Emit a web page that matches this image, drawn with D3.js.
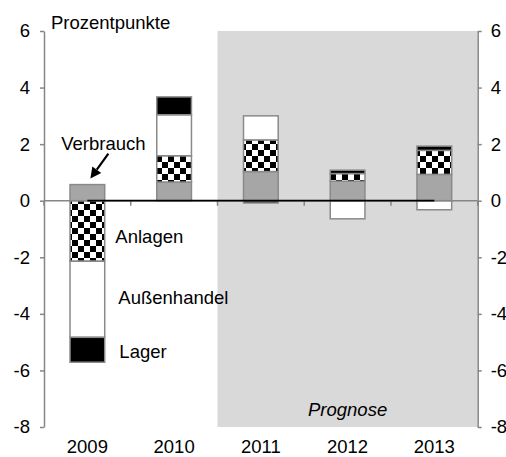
<!DOCTYPE html>
<html>
<head>
<meta charset="utf-8">
<script src="https://cdn.jsdelivr.net/npm/d3@7"></script>
<style>
  html, body { margin: 0; padding: 0; background: #fff; }
  svg { display: block; font-family: "Liberation Sans", Arial, sans-serif; }
</style>
</head>
<body>
<svg id="chart" width="506" height="457"></svg>
<script>
// Wachstumsbeiträge zum BIP (Prozentpunkte)
const jahre = ["2009", "2010", "2011", "2012", "2013"];
const verbrauch = [0.57, 0.66, 1.03, 0.69, 0.93];
const anlagen = [-2.14, 0.93, 1.12, 0.27, 0.85];
const aussenhandel = [-2.69, 1.45, 0.85, -0.64, -0.32];
const lager = [-0.88, 0.63, -0.08, 0.12, 0.15];
const nulllinie = [0, 0, 0, 0, 0];
const yTicks = [-8, -6, -4, -2, 0, 2, 4, 6];
const prognoseAb = "2011";

const serien = ["Verbrauch", "Anlagen", "Außenhandel", "Lager"];
const werte = { "Verbrauch": verbrauch, "Anlagen": anlagen, "Außenhandel": aussenhandel, "Lager": lager };
const tabelle = jahre.map((j, i) => {
  const row = { jahr: j };
  serien.forEach(s => row[s] = werte[s][i]);
  return row;
});

const svg = d3.select("#chart");
const plotL = 44, plotR = 477.7, plotT = 31, plotB = 427;
const fs = 18.5;

const x = d3.scaleBand().domain(jahre).range([plotL, plotR]).padding(0);
const y = d3.scaleLinear().domain([-8, 6]).range([plotB, plotT]);
const bw = x.bandwidth();
const barW = bw * 0.4;

// checkered fill for "Anlagen"
const defs = svg.append("defs");
const pat = defs.append("pattern").attr("id", "schach")
  .attr("patternUnits", "userSpaceOnUse").attr("width", 12).attr("height", 12);
pat.append("rect").attr("width", 12).attr("height", 12).attr("fill", "#fff");
pat.append("rect").attr("width", 6).attr("height", 6).attr("fill", "#000");
pat.append("rect").attr("x", 6).attr("y", 6).attr("width", 6).attr("height", 6).attr("fill", "#000");

const fills = { "Verbrauch": "#a6a6a6", "Anlagen": "url(#schach)", "Außenhandel": "#ffffff", "Lager": "#000000" };

// forecast shading
svg.append("rect")
  .attr("x", x(prognoseAb)).attr("y", y(6))
  .attr("width", plotR - x(prognoseAb)).attr("height", y(-8) - y(6))
  .attr("fill", "#d9d9d9");

svg.append("text")
  .attr("x", x("2012") + bw / 2).attr("y", y(-7.6))
  .attr("text-anchor", "middle").attr("font-size", fs).attr("font-style", "italic")
  .attr("fill", "#000").text("Prognose");

// stacked bars
const stack = d3.stack().keys(serien).offset(d3.stackOffsetDiverging);
const layers = stack(tabelle);
svg.append("g").selectAll("g").data(layers).join("g")
  .attr("fill", d => fills[d.key])
  .selectAll("rect").data(d => d).join("rect")
  .attr("x", d => x(d.data.jahr) + (bw - barW) / 2)
  .attr("y", d => y(Math.max(d[0], d[1])))
  .attr("width", barW)
  .attr("height", d => Math.abs(y(d[0]) - y(d[1])))
  .attr("stroke", "#8a8a8a").attr("stroke-width", 1.5);

// axes
const axisColor = "#868686";
const yl = svg.append("g").attr("transform", `translate(${plotL},0)`)
  .call(d3.axisLeft(y).tickValues(yTicks).tickSize(4).tickSizeOuter(0).tickPadding(10).tickFormat(d => String(d)));
const yr = svg.append("g").attr("transform", `translate(${plotR},0)`)
  .call(d3.axisRight(y).tickValues(yTicks).tickSize(4).tickSizeOuter(0).tickPadding(9).tickFormat(d => String(d)));
[yl, yr].forEach(g => {
  g.select(".domain").attr("stroke", axisColor).attr("stroke-width", 1.5);
  g.selectAll(".tick line").attr("stroke", axisColor).attr("stroke-width", 1.5);
  g.selectAll(".tick text").attr("font-size", fs).attr("fill", "#000")
    .attr("font-family", "Liberation Sans, Arial, sans-serif");
});

// category axis along zero
svg.append("line").attr("x1", plotL).attr("x2", plotR).attr("y1", y(0)).attr("y2", y(0))
  .attr("stroke", axisColor).attr("stroke-width", 1.5);
const grenzen = jahre.map(j => x(j)).concat([plotR]);
svg.append("g").selectAll("line").data(grenzen).join("line")
  .attr("x1", d => d).attr("x2", d => d).attr("y1", y(0)).attr("y2", y(0) + 5)
  .attr("stroke", axisColor).attr("stroke-width", 1.5);

svg.append("g").selectAll("text").data(jahre).join("text")
  .attr("x", d => x(d) + bw / 2).attr("y", 453)
  .attr("text-anchor", "middle").attr("font-size", fs).attr("fill", "#000")
  .text(d => d);

// black line series at zero
svg.append("path")
  .datum(nulllinie)
  .attr("d", d3.line().x((d, i) => x(jahre[i]) + bw / 2).y(d => y(d)))
  .attr("stroke", "#000").attr("stroke-width", 1.8).attr("fill", "none");

// title
svg.append("text").attr("x", 51).attr("y", 29).attr("font-size", fs).attr("fill", "#000")
  .text("Prozentpunkte");

// series labels next to the 2009 bar
const bx = x("2009") + bw / 2;
const lab = svg.append("g").attr("font-size", fs).attr("fill", "#000");
lab.append("text").attr("x", bx + 16).attr("y", 150).attr("text-anchor", "middle").text("Verbrauch");
lab.append("text").attr("x", bx + 28).attr("y", y(-1.26) + 6.5).text("Anlagen");
lab.append("text").attr("x", bx + 31).attr("y", y(-3.43) + 6.5).text("Außenhandel");
lab.append("text").attr("x", bx + 32).attr("y", y(-5.32) + 6.5).text("Lager");

// arrow pointing at the consumption segment
const tipX = bx + 3, tipY = y(verbrauch[0]) - 6;
const tailX = tipX + 18, tailY = tipY - 25;
const ang = Math.atan2(tipY - tailY, tipX - tailX);
const hl = 11, hw = 5.5;
const baseX = tipX - hl * Math.cos(ang), baseY = tipY - hl * Math.sin(ang);
svg.append("line").attr("x1", tailX).attr("y1", tailY).attr("x2", baseX).attr("y2", baseY)
  .attr("stroke", "#000").attr("stroke-width", 2.2);
svg.append("path")
  .attr("d", `M${tipX},${tipY}L${baseX + hw * Math.sin(ang)},${baseY - hw * Math.cos(ang)}L${baseX - hw * Math.sin(ang)},${baseY + hw * Math.cos(ang)}Z`)
  .attr("fill", "#000");
</script>
</body>
</html>
